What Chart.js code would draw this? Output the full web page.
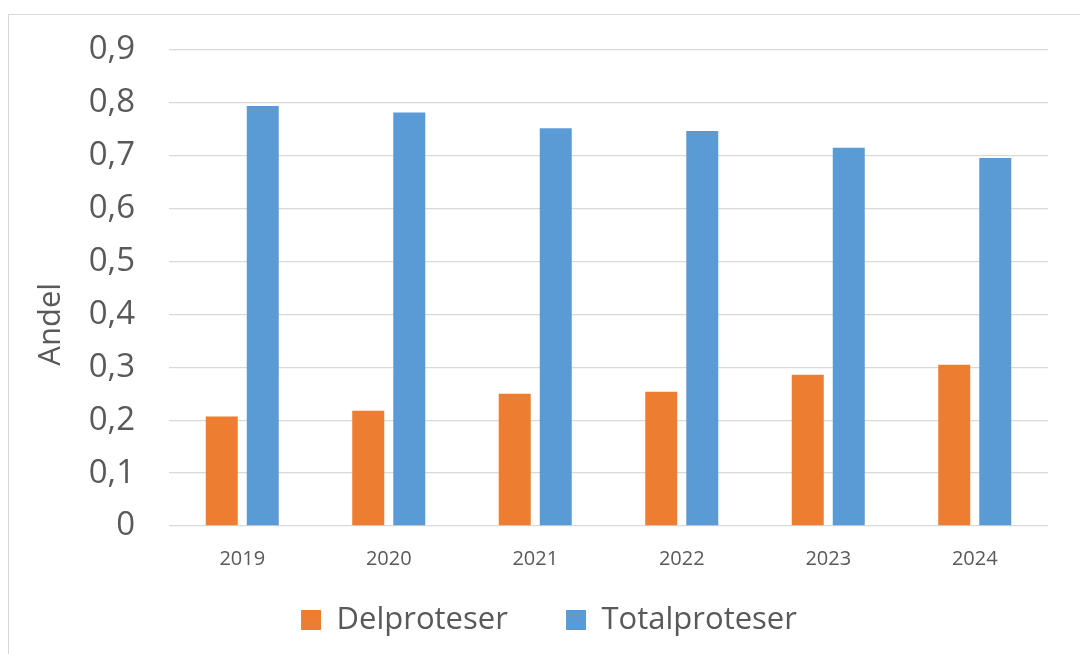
<!DOCTYPE html>
<html>
<head>
<meta charset="utf-8">
<script src="https://cdn.jsdelivr.net/npm/chart.js@4/dist/chart.umd.min.js"></script>
<style>
  html, body { margin: 0; padding: 0; background: #fff; overflow: hidden; width: 1080px; height: 654px; }
  .frame { position: absolute; left: 8px; top: 14px; width: 1100px; height: 700px; border: 1px solid #d9d9d9; }
  canvas { position: absolute; left: 0; top: 0; }
</style>
</head>
<body>
<div class="frame">
  <canvas id="chart" width="1080" height="639"></canvas>
</div>
<script>
// andel per år, delproteser vs totalproteser
const years = ['2019', '2020', '2021', '2022', '2023', '2024'];
const delproteser = [0.207, 0.218, 0.250, 0.254, 0.286, 0.305];
const totalproteser = [0.794, 0.782, 0.752, 0.747, 0.715, 0.696];
const yMin = 0;
const yMax = 0.9;
const yStep = 0.1;

const grey = '#595959';
const font = '"Open Sans", "Noto Sans", sans-serif';

new Chart(document.getElementById('chart'), {
    type: 'bar',
    data: {
        labels: years,
        datasets: [
            {
                label: 'Delproteser',
                data: delproteser,
                backgroundColor: '#ED7D31',
                categoryPercentage: 0.56,
                barPercentage: 0.78
            },
            {
                label: 'Totalproteser',
                data: totalproteser,
                backgroundColor: '#5B9BD5',
                categoryPercentage: 0.56,
                barPercentage: 0.78
            }
        ]
    },
    options: {
        responsive: false,
        animation: false,
        layout: { padding: { top: 35, bottom: 8.5, left: 0, right: 0 } },
        plugins: {
            tooltip: { enabled: false },
            legend: {
                position: 'bottom',
                labels: {
                    boxWidth: 20,
                    boxHeight: 20,
                    padding: 34,
                    color: grey,
                    font: { family: font, size: 31 },
                    // litt ekstra luft mellom de to elementene
                    generateLabels: (chart) => Chart.defaults.plugins.legend.labels.generateLabels(chart)
                        .map((l, i) => i === 0 ? { ...l, text: l.text + '   ' } : l)
                }
            }
        },
        scales: {
            x: {
                grid: { display: false },
                border: { display: false },
                ticks: { color: grey, padding: 13, font: { family: font, size: 20 } },
                afterFit: (s) => { s.height = 44.5; }
            },
            y: {
                min: yMin,
                max: yMax,
                border: { display: false },
                grid: { color: '#d9d9d9', lineWidth: 1.3, drawTicks: false },
                ticks: {
                    stepSize: yStep,
                    padding: 34,
                    color: grey,
                    font: { family: font, size: 33 },
                    callback: (v) => v === 0 ? '0' : Number(v).toFixed(1).replace('.', ',')
                },
                title: {
                    display: true,
                    text: 'Andel'.padEnd(14, ' '),
                    color: grey,
                    padding: { top: 24, bottom: 0 },
                    font: { family: font, size: 31 }
                },
                afterFit: (s) => {
                    s.width = 160;
                    // tick-padding skal ikke skyve plottet ned
                    s.paddingTop = 20;
                    s.paddingBottom = 20;
                }
            },
            // tom akse til høyre, bare for å holde plassen
            yRight: {
                position: 'right',
                display: true,
                min: 0,
                max: 1,
                grid: { display: false },
                border: { display: false },
                ticks: { display: false },
                afterFit: (s) => { s.width = 41; }
            }
        }
    }
});
</script>
</body>
</html>
